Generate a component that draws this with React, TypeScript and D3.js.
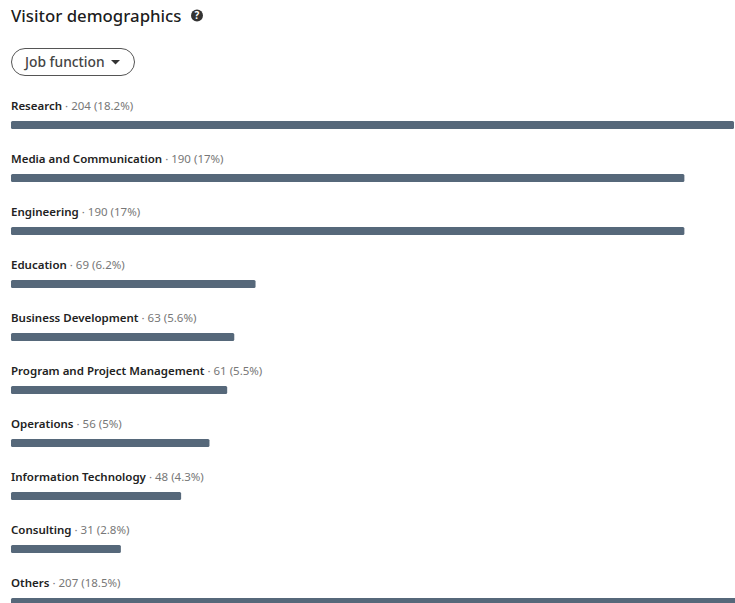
import React from "react";
import * as d3 from "d3";

const categories = [
  "Research",
  "Media and Communication",
  "Engineering",
  "Education",
  "Business Development",
  "Program and Project Management",
  "Operations",
  "Information Technology",
  "Consulting",
  "Others",
];
const counts = [204, 190, 190, 69, 63, 61, 56, 48, 31, 207];
const shares = ["18.2", "17", "17", "6.2", "5.6", "5.5", "5", "4.3", "2.8", "18.5"];

const FONT = "'Noto Sans', sans-serif";
const WIDTH = 735;
const HEIGHT = 603;

export default function App() {
  const x = d3.scaleLinear().domain([0, 204]).range([11, 734]);
  const y = d3
    .scaleLinear()
    .domain([0, categories.length - 1])
    .range([106, 583]);

  return (
    <svg
      width={WIDTH}
      height={HEIGHT}
      viewBox={`0 0 ${WIDTH} ${HEIGHT}`}
      style={{ position: "absolute", left: 0, top: 0, background: "#fff" }}
      fontFamily={FONT}
    >
      <text x={11} y={21.5} fontSize={16.8} fontWeight={500} fill="rgba(0,0,0,0.9)">
        Visitor demographics
      </text>
      <circle cx={197} cy={15.5} r={6} fill="#333" />
      <text x={197} y={19} fontSize={10} fontWeight={700} fill="#fff" textAnchor="middle">
        ?
      </text>

      <rect x={11.5} y={48.5} width={123} height={27} rx={13.5} fill="#fff" stroke="#555" />
      <text x={25} y={66.5} fontSize={13.8} fontWeight={500} fill="#444">
        Job function
      </text>
      <path d="M111 60h9l-4.5 4.5z" fill="#333" />

      {categories.map((name, i) => (
        <g key={name}>
          <text x={11} y={y(i) + 4} fontSize={11.5}>
            <tspan fontWeight={600} fill="#222">
              {name}
            </tspan>
            <tspan fill="#777">{` · ${counts[i]} (${shares[i]}%)`}</tspan>
          </text>
          <rect
            x={x(0)}
            y={y(i) + 15}
            width={x(counts[i]) - x(0)}
            height={8}
            rx={1.5}
            fill="#56687a"
          />
        </g>
      ))}
    </svg>
  );
}
